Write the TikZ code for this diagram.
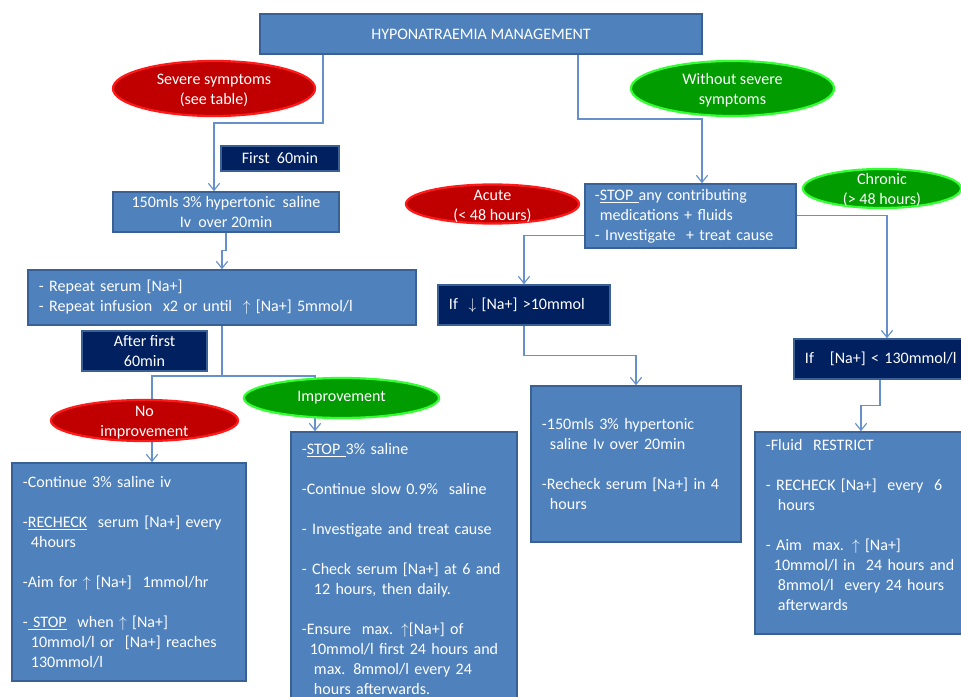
\documentclass[tikz,border=0pt]{standalone}
\usepackage{fontspec}
\setmainfont{Carlito}
\usetikzlibrary{shapes.geometric,arrows.meta,calc}
\definecolor{boxblue}{HTML}{4F81BD}
\definecolor{boxedge}{HTML}{3A6195}
\definecolor{navy}{HTML}{002060}
\definecolor{linkblue}{HTML}{6590CA}
\definecolor{sevred}{HTML}{C00000}
\definecolor{edgered}{HTML}{FF1A1A}
\definecolor{okgreen}{HTML}{009C00}
\definecolor{edgegreen}{HTML}{33FF33}
\newcommand{\ind}{\hspace*{0.2cm}}
\newcommand{\indd}{\hspace*{0.3cm}}
\newcommand{\up}{\(\uparrow\)}
\newcommand{\down}{\(\downarrow\)}
\newcommand{\twolines}[2]{\raisebox{-4.2pt}[0pt][0pt]{\begin{tabular}{@{}c@{}}#1\\#2\end{tabular}}}
\begin{document}
\begin{tikzpicture}[x=0.025cm,y=0.025cm]
\tikzstyle{every node}+=[inner sep=0pt, text=white, font=\fontsize{11.4}{14.2}\selectfont]
\tikzstyle{bluebox}=[rectangle, draw=boxedge, fill=boxblue, line width=1.1pt]
\tikzstyle{navybox}=[rectangle, draw=boxedge, fill=navy, line width=1.1pt]
\tikzstyle{redoval}=[ellipse, draw=edgered, fill=sevred, line width=1.6pt]
\tikzstyle{greenoval}=[ellipse, draw=edgegreen, fill=okgreen, line width=1.6pt]
\tikzstyle{link}=[draw=linkblue, line width=0.8pt, -{Straight Barb[length=5pt,width=8pt]}]
\useasboundingbox (0,0) rectangle (961,-697);
\clip (0,0) rectangle (961,-697);
\node (title) at (481,-34) [bluebox, minimum width=11.05cm, minimum height=1cm] {HYPONATRAEMIA MANAGEMENT};
\node (first60) at (280,-158.5) [navybox, minimum width=2.95cm, minimum height=0.625cm] {First\ \ 60min};
\node (hyp150) at (226,-212) [bluebox, minimum width=5.65cm, minimum height=1cm, align=center] {150mls 3\% hypertonic\ \ saline\\Iv\ \ over 20min};
\node (repeat) at (222,-297.5) [bluebox, text width=9.15cm, inner xsep=0.275cm, minimum height=1.375cm, align=left] {- Repeat serum [Na+]\\- Repeat infusion\ \ x2 or until\ \ \up\ [Na+] 5mmol/l};
\node (after60) at (144.5,-351) [navybox, minimum width=3.125cm, minimum height=1cm, align=center] {After first\\60min};
\node (cont) at (129,-572) [bluebox, text width=5.3cm, inner xsep=0.275cm, minimum height=5.45cm, align=left] {-Continue 3\% saline iv\\[0.5cm]
-\underline{RECHECK}\ \ serum [Na+] every\\\ind 4hours\\[0.5cm]
-Aim for \up\ [Na+]\ \ 1mmol/hr\\[0.5cm]
-\underline{\ STOP}\ \ when \up\ [Na+]\\\ind 10mmol/l or\ \ [Na+] reaches\\\ind 130mmol/l};
\node (stopsal) at (404,-569) [bluebox, text width=5.1cm, inner xsep=0.275cm, minimum height=6.85cm, align=left] {-\underline{STOP\ }3\% saline\\[0.5cm]
-Continue slow 0.9\%\ \ saline\\[0.5cm]
- Investigate and treat cause\\[0.5cm]
- Check serum [Na+] at 6 and\\\indd 12 hours, then daily.\\[0.5cm]
-Ensure\ \ max. \up[Na+] of\\\ind 10mmol/l first 24 hours and\\\indd max. 8mmol/l every 24\\\indd hours afterwards.};
\node (stopmed) at (690.5,-216) [bluebox, text width=4.775cm, inner xsep=0.25cm, minimum height=1.6cm, align=left] {-\underline{STOP\ }any contributing\\\hspace*{0.12cm}medications + fluids\\- Investigate\ \ + treat cause};
\node (iflow) at (524,-305) [navybox, text width=3.75cm, inner xsep=0.275cm, minimum height=1cm, align=left] {If\ \ \down\ [Na+] >10mmol};
\node (acutebox) at (636,-464) [bluebox, text width=4.7cm, inner xsep=0.275cm, minimum height=3.9cm, align=left] {-150mls 3\% hypertonic\\\ind saline Iv over 20min\\[0.5cm]
-Recheck serum [Na+] in 4\\\ind hours};
\node (ifhi) at (887,-359) [navybox, text width=4.1cm, inner xsep=0.275cm, minimum height=1cm, align=left] {If\ \ \ [Na+] < 130mmol/l};
\node (fluid) at (875,-533) [bluebox, text width=5.45cm, inner xsep=0.275cm, minimum height=5.05cm, align=left] {-Fluid\ \ RESTRICT\\[0.5cm]
- RECHECK [Na+]\ \ every\ \ 6\\\indd hours\\[0.5cm]
- Aim\ \ max. \up\ [Na+]\\\ind 10mmol/l in\ \ 24 hours and\\\indd 8mmol/l\ \ every 24 hours\\\indd afterwards\rule[-0.4cm]{0pt}{0.4cm}};
\coordinate (tL) at (323,-123);
\coordinate (aL) at (214,-192);
\coordinate (tR) at (578,-119);
\coordinate (split) at (222,-376);
\draw[link] (title.south -| tL) -- (tL) -| (aL |- hyp150.north);
\draw[link] (title.south -| tR) -- (tR) -| ($(stopmed.north)+(11.5,0)$);
\draw[link] (hyp150.south) -- ++(0,-18) -| (repeat.north);
\draw[link] (repeat.south) -- (split) -| ($(cont.north)+(23,0)$);
\draw[link] (split) -| ($(stopsal.north)+(-89,0)$);
\draw[link] ($(stopmed.north east)+(0,-32)$) -| (ifhi.north);
\draw[link] ($(stopmed.south west)+(0,13)$) -| (iflow.north);
\draw[link] (iflow.south) -- ++(0,-30) -| (acutebox.north);
\draw[link] ($(ifhi.south)+(-7,0)$) -- ++(0,-26) -| ($(fluid.north)+(-14,0)$);
\node (severe) at (214,-88.5) [redoval, minimum width=5.05cm, minimum height=1.375cm] {\twolines{Severe symptoms}{(see table)}};
\node (without) at (732.5,-88.5) [greenoval, minimum width=5.075cm, minimum height=1.375cm] {\twolines{Without severe}{symptoms}};
\node (acute) at (492.5,-204) [redoval, minimum width=4.325cm, minimum height=0.975cm] {\twolines{Acute}{(< 48 hours)}};
\node (chronic) at (882,-188.5) [greenoval, minimum width=3.95cm, minimum height=0.975cm] {\twolines{Chronic}{(> 48 hours)}};
\node (noimp) at (144.5,-420.5) [redoval, minimum width=4.675cm, minimum height=1.025cm] {\twolines{No}{improvement}};
\node (imp) at (341.5,-398) [greenoval, minimum width=4.875cm, minimum height=1cm] {Improvement};
\end{tikzpicture}
\end{document}
